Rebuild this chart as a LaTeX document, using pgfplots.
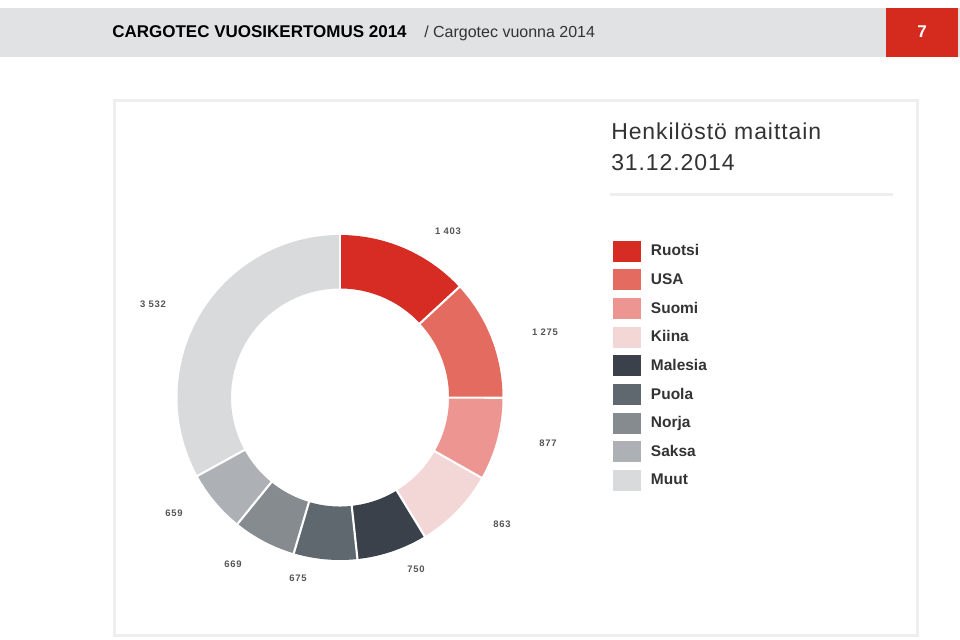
\documentclass[border=0pt]{standalone}
\usepackage{pgfplots}
\usepackage{pgfplotstable}
\pgfplotsset{compat=1.18}
\usepackage{fontspec}
\setmainfont{Liberation Sans}
\definecolor{c0}{RGB}{214,44,36}
\definecolor{c1}{RGB}{228,107,96}
\definecolor{c2}{RGB}{236,149,145}
\definecolor{c3}{RGB}{243,214,214}
\definecolor{c4}{RGB}{58,65,75}
\definecolor{c5}{RGB}{95,104,110}
\definecolor{c6}{RGB}{134,139,143}
\definecolor{c7}{RGB}{173,176,180}
\definecolor{c8}{RGB}{217,218,220}
\definecolor{hdr}{RGB}{225,226,228}
\definecolor{redbox}{RGB}{213,43,30}
\definecolor{panel}{RGB}{238,238,238}
\definecolor{txt}{RGB}{51,51,51}
\definecolor{lbl}{RGB}{85,85,85}

\pgfplotstableread{
name value
Ruotsi 1403
USA 1275
Suomi 877
Kiina 863
Malesia 750
Puola 675
Norja 669
Saksa 659
Muut 3532
}\datatable

\begin{document}
\begin{tikzpicture}[x=0.75pt,y=-0.75pt]
\useasboundingbox (0,0) rectangle (960,639);
\fill[white] (0,0) rectangle (960,639);
% header
\fill[hdr] (0,8) rectangle (960,57);
\fill[redbox] (886,8) rectangle (958,57);
\node[anchor=base west, inner sep=0pt, font=\bfseries\fontsize{12.75}{15}\selectfont, text=black] at (112,37) {CARGOTEC VUOSIKERTOMUS 2014};
\node[anchor=base west, inner sep=0pt, font=\fontsize{12}{14}\selectfont, text=txt] at (424,37) {/ Cargotec vuonna 2014};
\node[anchor=base, inner sep=0pt, font=\bfseries\fontsize{12.75}{15}\selectfont, text=white] at (922,37) {7};
% panel
\draw[panel, line width=2.25pt] (114,100) rectangle (917,635);
\node[anchor=base west, inner sep=0pt, font=\addfontfeature{LetterSpace=4}\fontsize{17.25}{20}\selectfont, text=txt] at (611,139.5) {Henkilöstö maittain};
\node[anchor=base west, inner sep=0pt, font=\addfontfeature{LetterSpace=4}\fontsize{17.25}{20}\selectfont, text=txt] at (611,170) {31.12.2014};
\draw[panel, line width=2.25pt] (610,194) -- (893,194);

\begin{axis}[
  at={(255pt,-298.125pt)}, anchor=center,
  x=121.875pt, y=121.875pt,
  xmin=-1.1, xmax=1.1, ymin=-1.1, ymax=1.1,
  hide axis, clip=false,
  legend image code/.code={\fill[#1] (0pt,-7.875pt) rectangle (21pt,7.875pt);},
  legend style={at={(1.2636,0.939)}, anchor=north west, draw=none, fill=none,
    inner sep=0pt, outer sep=0pt, row sep=5.75pt, column sep=7.5pt,
    font=\bfseries\fontsize{11.6}{13}\selectfont,
    nodes={inner sep=0pt, text=txt}},
  legend cell align=left,
]
\pgfplotstablegetrowsof{\datatable}
\pgfmathtruncatemacro\nrows{\pgfplotsretval-1}
\def\total{0}
\pgfplotsforeachungrouped \i in {0,...,\nrows}{%
  \pgfplotstablegetelem{\i}{value}\of\datatable
  \pgfmathsetmacro\total{\total+\pgfplotsretval}%
}
\def\cum{0}
\pgfplotsforeachungrouped \i in {0,...,\nrows}{%
  \pgfplotstablegetelem{\i}{value}\of\datatable
  \pgfmathsetmacro\a{90-360*(\cum/\total)}%
  \pgfmathsetmacro\cumnew{\cum+\pgfplotsretval}%
  \pgfmathsetmacro\b{90-360*(\cumnew/\total)}%
  \pgfmathtruncatemacro\ns{max(8,(\a-\b)/1.5)}%
  \edef\tmp{\noexpand\addplot[draw=c\i, line width=40.1pt, line cap=butt, domain=\b:\a, samples=\ns, variable=\noexpand\t, forget plot] ({0.8354*cos(\noexpand\t)},{0.8354*sin(\noexpand\t)});}%
  \tmp
  \let\cum\cumnew
}
\def\cum{0}
\pgfplotsforeachungrouped \i in {0,...,\nrows}{%
  \pgfplotstablegetelem{\i}{value}\of\datatable
  \pgfmathsetmacro\a{90-360*(\cum/\total)}%
  \pgfmathsetmacro\xi{0.64*cos(\a)}\pgfmathsetmacro\yi{0.64*sin(\a)}%
  \pgfmathsetmacro\xo{1.03*cos(\a)}\pgfmathsetmacro\yo{1.03*sin(\a)}%
  \edef\tmp{\noexpand\addplot[draw=white, line width=1.6pt, forget plot] coordinates {(\xi,\yi) (\xo,\yo)};}%
  \tmp
  \pgfmathsetmacro\cumnew{\cum+\pgfplotsretval}%
  \let\cum\cumnew
}
\addlegendimage{fill=c0, draw=none}\addlegendentry{Ruotsi}
\addlegendimage{fill=c1, draw=none}\addlegendentry{USA}
\addlegendimage{fill=c2, draw=none}\addlegendentry{Suomi}
\addlegendimage{fill=c3, draw=none}\addlegendentry{Kiina}
\addlegendimage{fill=c4, draw=none}\addlegendentry{Malesia}
\addlegendimage{fill=c5, draw=none}\addlegendentry{Puola}
\addlegendimage{fill=c6, draw=none}\addlegendentry{Norja}
\addlegendimage{fill=c7, draw=none}\addlegendentry{Saksa}
\addlegendimage{fill=c8, draw=none}\addlegendentry{Muut}
\end{axis}

% value labels
\begin{scope}[every node/.style={inner sep=0pt, text=lbl, font=\bfseries\addfontfeature{LetterSpace=8}\fontsize{7.1}{8}\selectfont}]
\node at (448,231) {1 403};
\node at (545,332) {1 275};
\node at (548,443) {877};
\node at (502,524) {863};
\node at (416,569) {750};
\node at (298,578) {675};
\node at (233,564) {669};
\node at (174,513) {659};
\node at (153,304) {3 532};
\end{scope}
\end{tikzpicture}
\end{document}
